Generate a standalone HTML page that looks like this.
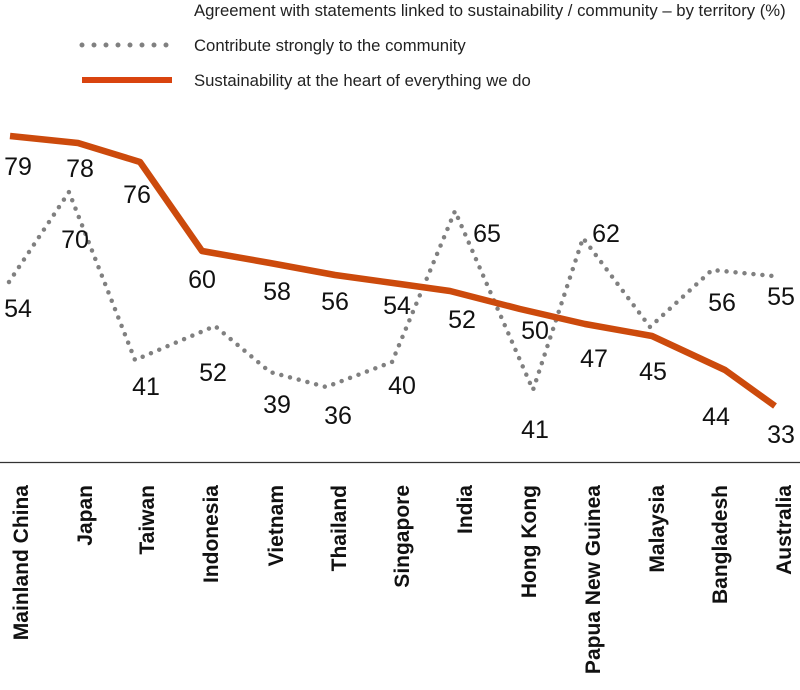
<!DOCTYPE html>
<html><head><meta charset="utf-8"><style>
body{margin:0;background:#fff}
svg text{font-family:"Liberation Sans",sans-serif}
</style></head><body>
<svg width="800" height="685" viewBox="0 0 800 685" xmlns="http://www.w3.org/2000/svg">
<text x="194" y="16" font-size="16.7" fill="#222">Agreement with statements linked to sustainability / community – by territory (%)</text>
<line x1="82" y1="45" x2="170" y2="45" stroke="#808080" stroke-width="5" stroke-dasharray="0 12" stroke-linecap="round"/>
<text x="194" y="51" font-size="16.7" fill="#222">Contribute strongly to the community</text>
<line x1="82" y1="80" x2="172" y2="80" stroke="#d9440f" stroke-width="6"/>
<text x="194" y="86" font-size="16.7" fill="#222">Sustainability at the heart of everything we do</text>

<polyline fill="none" stroke="#808080" stroke-width="4.5" stroke-dasharray="0 9" stroke-linecap="round"
points="9,282 69,192 135,360 215,326 270,372 326,387 392,362 455,211 533,390 583,238 650,327 712,270 773,276"/>
<polyline fill="none" stroke="#cc4a0c" stroke-width="6.5" stroke-linejoin="round"
points="10,136 78,143 140,162 202,251 270,263 335,275 400,284 450,291 520,309 585,324 652,336 725,370 775,406"/>

<g font-size="25" fill="#111" text-anchor="middle">
<text x="18" y="175">79</text><text x="80" y="177">78</text><text x="137" y="203">76</text>
<text x="202" y="288">60</text><text x="277" y="300">58</text><text x="335" y="310">56</text>
<text x="397" y="314">54</text><text x="462" y="328">52</text><text x="535" y="339">50</text>
<text x="594" y="367">47</text><text x="653" y="380">45</text><text x="716" y="425">44</text>
<text x="781" y="443">33</text>
<text x="18" y="317">54</text><text x="75" y="248">70</text><text x="146" y="395">41</text>
<text x="213" y="381">52</text><text x="277" y="413">39</text><text x="338" y="424">36</text>
<text x="402" y="394">40</text><text x="487" y="242">65</text><text x="535" y="438">41</text>
<text x="606" y="242">62</text><text x="722" y="311">56</text><text x="781" y="305">55</text>
</g>

<line x1="0" y1="462.5" x2="800" y2="462.5" stroke="#333" stroke-width="1.2"/>
<g font-size="21" font-weight="bold" fill="#111" text-anchor="end">
<text transform="translate(28,485) rotate(-90)">Mainland China</text>
<text transform="translate(92,485) rotate(-90)">Japan</text>
<text transform="translate(154,485) rotate(-90)">Taiwan</text>
<text transform="translate(218,485) rotate(-90)">Indonesia</text>
<text transform="translate(283,485) rotate(-90)">Vietnam</text>
<text transform="translate(346,485) rotate(-90)">Thailand</text>
<text transform="translate(409,485) rotate(-90)">Singapore</text>
<text transform="translate(472,485) rotate(-90)">India</text>
<text transform="translate(536,485) rotate(-90)">Hong Kong</text>
<text transform="translate(600,485) rotate(-90)">Papua New Guinea</text>
<text transform="translate(664,485) rotate(-90)">Malaysia</text>
<text transform="translate(727,485) rotate(-90)">Bangladesh</text>
<text transform="translate(791,485) rotate(-90)">Australia</text>
</g>
</svg>
</body></html>
